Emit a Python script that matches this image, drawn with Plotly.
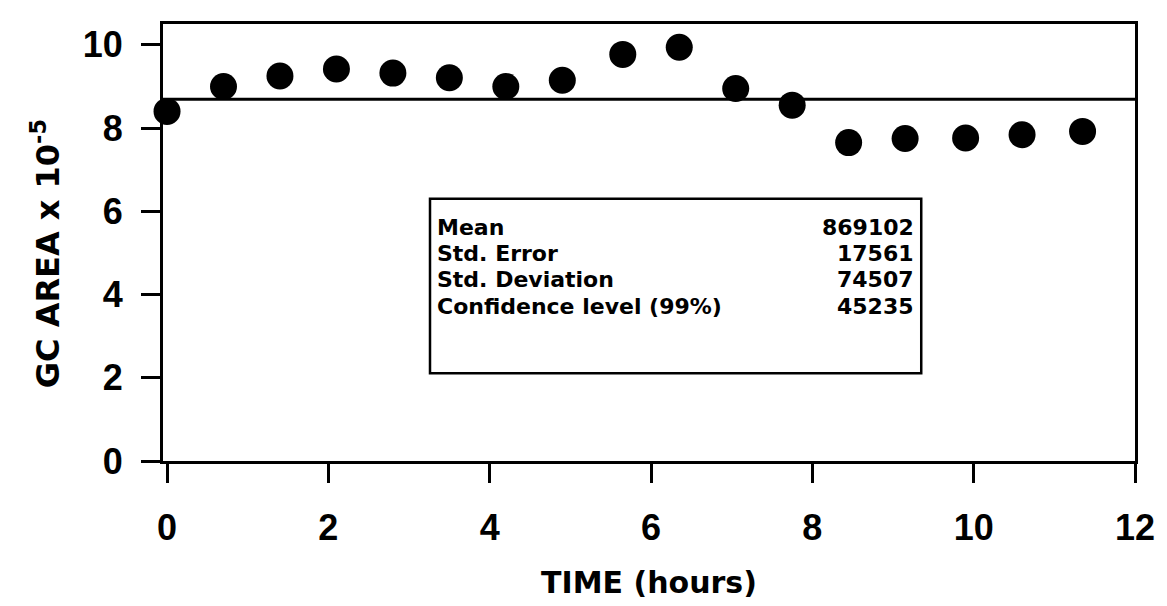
import plotly.graph_objects as go

# Data
time_hours = [0.0, 0.7, 1.4, 2.1, 2.8, 3.5, 4.2, 4.9, 5.65, 6.35, 7.05, 7.75, 8.45, 9.15, 9.9, 10.6, 11.35]
gc_area = [8.40, 9.00, 9.25, 9.42, 9.32, 9.21, 9.00, 9.15, 9.77, 9.94, 8.95, 8.55, 7.65, 7.75, 7.76, 7.84, 7.92]
mean_value = 869102
stat_labels = ["Mean", "Std. Error", "Std. Deviation", "Confidence level (99%)"]
stat_values = ["869102", "17561", "74507", "45235"]
x_ticks = [0, 2, 4, 6, 8, 10, 12]
y_ticks = [0, 2, 4, 6, 8, 10]

X_RANGE = [-0.05, 12]
Y_RANGE = [0, 10.5]

fig = go.Figure()

# Mean line
fig.add_trace(go.Scatter(
    x=[X_RANGE[0], X_RANGE[1]], y=[mean_value / 1e5] * 2,
    mode="lines", line=dict(color="black", width=3),
    showlegend=False, hoverinfo="skip", cliponaxis=False))

# Data points
fig.add_trace(go.Scatter(
    x=time_hours, y=gc_area, mode="markers",
    marker=dict(color="black", size=27, line=dict(width=0)),
    showlegend=False, cliponaxis=False))

tick_font = dict(family="Liberation Sans, Arial, sans-serif", size=36, color="black", weight="bold")
title_font = dict(family="DejaVu Sans, sans-serif", size=30, color="black", weight="bold")
ytitle_font = dict(family="DejaVu Sans, sans-serif", size=32, color="black", weight="bold")
stat_font = dict(family="DejaVu Sans, sans-serif", size=22, color="black", weight="bold")

# Stats box
fig.add_shape(type="rect", xref="x", yref="y", x0=3.26, x1=9.35, y0=2.11, y1=6.30,
              line=dict(color="black", width=2.5), fillcolor="white", layer="above")

row_y = [5.60, 4.98, 4.36, 3.72]
for lab, val, yy in zip(stat_labels, stat_values, row_y):
    fig.add_annotation(x=3.32, y=yy, xref="x", yref="y", text=lab, showarrow=False,
                       xanchor="left", yanchor="middle", font=stat_font)
    fig.add_annotation(x=9.28, y=yy, xref="x", yref="y", text=val, showarrow=False,
                       xanchor="right", yanchor="middle", font=stat_font)

# Y axis title as rotated annotation (placed as in the reference)
fig.add_annotation(x=-0.121, y=0.474, xref="paper", yref="paper",
                   text="GC AREA x 10<sup>-5</sup>", textangle=-90, showarrow=False,
                   xanchor="center", yanchor="middle", font=ytitle_font)

fig.update_xaxes(
    range=X_RANGE, tickvals=x_ticks, ticktext=[str(v) for v in x_ticks],
    showline=True, linecolor="black", linewidth=3, mirror=True,
    ticks="outside", ticklen=19, tickwidth=3, tickcolor="black",
    tickfont=tick_font, ticklabelstandoff=14,
    showgrid=False, zeroline=False,
    title=dict(text="TIME (hours)", font=title_font, standoff=25),
)
fig.update_yaxes(
    range=Y_RANGE, tickvals=y_ticks, ticktext=[str(v) for v in y_ticks],
    showline=True, linecolor="black", linewidth=3, mirror=True,
    ticks="outside", ticklen=19, tickwidth=3, tickcolor="black",
    tickfont=tick_font, ticklabelstandoff=11,
    showgrid=False, zeroline=False,
)

fig.update_layout(
    width=1167, height=606,
    margin=dict(l=163, r=29, t=24, b=139, pad=0),
    plot_bgcolor="white", paper_bgcolor="white",
    showlegend=False,
)

fig.write_html("out.html")
